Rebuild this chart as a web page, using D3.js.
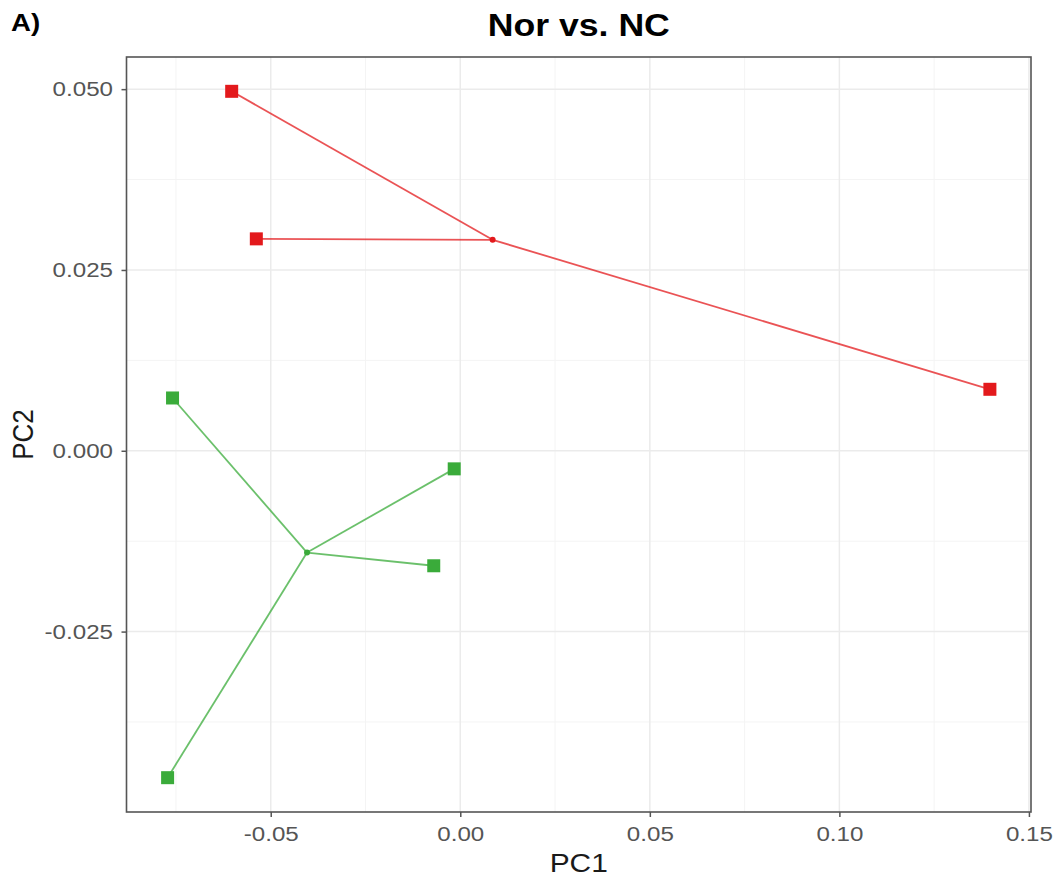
<!DOCTYPE html>
<html>
<head>
<meta charset="utf-8">
<script src="https://cdn.jsdelivr.net/npm/d3@7"></script>
<style>
  body { margin: 0; background: #fff; }
  text { font-family: "Liberation Sans", Arial, sans-serif; }
</style>
</head>
<body>
<svg width="1059" height="879"></svg>
<script>
"use strict";

// PCA scores per group
const groups = ['Nor', 'NC']
const colors = ['#e3191c', '#3aab3a']
const pc1 = [
	[-0.0603, -0.0538, 0.1397],
	[-0.0759, -0.0016, -0.0070, -0.0772]
]
const pc2 = [
	[0.0497, 0.0293, 0.0085],
	[0.0073, -0.0025, -0.0159, -0.0452]
]
const xTicks = [-0.05, 0.00, 0.05, 0.10, 0.15]
const xMinor = [-0.075, -0.025, 0.025, 0.075, 0.125]
const yTicks = [-0.025, 0.000, 0.025, 0.050]
const yMinor = [-0.0375, -0.0125, 0.0125, 0.0375]

const svg = d3.select('svg')
const m = {left: 126.5, right: 1031, top: 57, bottom: 812}
const SX = 1.15 // the original picture is a bit wider than tall in its lettering

const allX = [].concat(...pc1), allY = [].concat(...pc2)
const expand = ext => { const d = (ext[1] - ext[0]) * 0.05; return [ext[0] - d, ext[1] + d] }
const x = d3.scaleLinear().domain(expand(d3.extent(allX))).range([m.left, m.right])
const y = d3.scaleLinear().domain(expand(d3.extent(allY))).range([m.bottom, m.top])

// grid
const grid = svg.append('g')
grid.selectAll('.vmin').data(xMinor).enter().append('line')
	.attr('x1', d => x(d)).attr('x2', d => x(d)).attr('y1', m.top).attr('y2', m.bottom)
	.attr('stroke', '#f4f4f4').attr('stroke-width', 1)
grid.selectAll('.hmin').data(yMinor).enter().append('line')
	.attr('y1', d => y(d)).attr('y2', d => y(d)).attr('x1', m.left).attr('x2', m.right)
	.attr('stroke', '#f4f4f4').attr('stroke-width', 1)
grid.selectAll('.vmaj').data(xTicks).enter().append('line')
	.attr('x1', d => x(d)).attr('x2', d => x(d)).attr('y1', m.top).attr('y2', m.bottom)
	.attr('stroke', '#ebebeb').attr('stroke-width', 1.5)
grid.selectAll('.hmaj').data(yTicks).enter().append('line')
	.attr('y1', d => y(d)).attr('y2', d => y(d)).attr('x1', m.left).attr('x2', m.right)
	.attr('stroke', '#ebebeb').attr('stroke-width', 1.5)

// spider lines to centroids, then points
groups.forEach((g, gi) => {
	const pts = d3.zip(pc1[gi], pc2[gi])
	const cx = d3.mean(pc1[gi]), cy = d3.mean(pc2[gi])
	const layer = svg.append('g')
	layer.selectAll('line').data(pts).enter().append('line')
		.attr('x1', x(cx)).attr('y1', y(cy))
		.attr('x2', d => x(d[0])).attr('y2', d => y(d[1]))
		.attr('stroke', colors[gi]).attr('stroke-opacity', 0.75).attr('stroke-width', 1.8)
	layer.append('circle').attr('cx', x(cx)).attr('cy', y(cy)).attr('r', 3)
		.attr('fill', colors[gi])
	const s = 13
	layer.selectAll('rect').data(pts).enter().append('rect')
		.attr('x', d => x(d[0]) - s/2).attr('y', d => y(d[1]) - s/2)
		.attr('width', s).attr('height', s)
		.attr('fill', colors[gi])
})

// panel border
svg.append('rect').attr('x', m.left).attr('y', m.top)
	.attr('width', m.right - m.left).attr('height', m.bottom - m.top)
	.attr('fill', 'none').attr('stroke', '#555').attr('stroke-width', 1.6)

// axes (hyphen minus like R)
const loc = d3.formatLocale({decimal: '.', thousands: ',', grouping: [3], currency: ['$', ''], minus: '-'})
const fmtX = loc.format('.2f'), fmtY = loc.format('.3f')
const xAxis = svg.append('g').attr('transform', `translate(0,${m.bottom})`)
	.call(d3.axisBottom(x).tickValues(xTicks).tickFormat(fmtX).tickSize(5))
const yAxis = svg.append('g').attr('transform', `translate(${m.left},0)`)
	.call(d3.axisLeft(y).tickValues(yTicks).tickFormat(fmtY).tickSize(5))
;[xAxis, yAxis].forEach(a => {
	a.select('.domain').remove()
	a.selectAll('.tick line').attr('stroke', '#555').attr('stroke-width', 1.5)
	a.selectAll('.tick text').attr('fill', '#555').style('font-size', '21px')
		.style('font-family', '"Liberation Sans", Arial, sans-serif')
})
xAxis.selectAll('.tick text').attr('y', 0).attr('dy', 0)
	.attr('transform', `translate(0,29) scale(${SX},1)`)
yAxis.selectAll('.tick text').attr('x', 0)
	.attr('transform', `translate(-13.5,0) scale(${SX},1)`)

// titles
const label = (tx, ty, str, size, weight, anchor, rot, fill) => svg.append('text')
	.attr('transform', `translate(${tx},${ty}) scale(${SX},1)` + (rot ? ` rotate(${rot})` : ''))
	.attr('text-anchor', anchor).style('font-size', size + 'px').style('font-weight', weight)
	.attr('fill', fill).text(str)
label((m.left + m.right) / 2, 36, 'Nor vs. NC', 31, 'bold', 'middle', 0, '#000')
label(11, 31, 'A)', 24, 'bold', 'start', 0, '#000')
label((m.left + m.right) / 2, 872, 'PC1', 26, 'normal', 'middle', 0, '#1a1a1a')
label(33, (m.top + m.bottom) / 2, 'PC2', 26, 'normal', 'middle', -90, '#1a1a1a')
</script>
</body>
</html>
